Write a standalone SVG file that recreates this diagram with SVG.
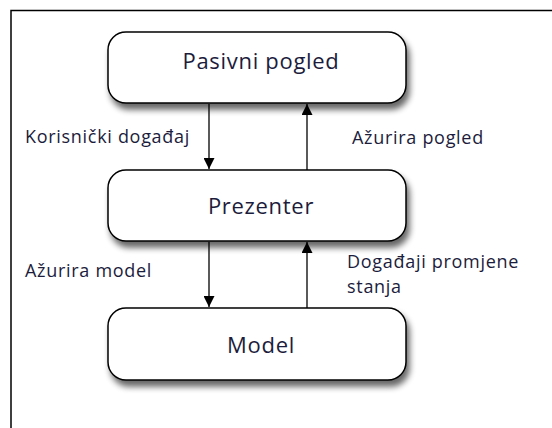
<svg xmlns="http://www.w3.org/2000/svg" width="552" height="428" viewBox="0 0 552 428">
<defs>
<style>
.node rect{fill:#fff;stroke:#000;stroke-width:1.5;filter:url(#sh)}
.t{font-family:"Open Sans","DejaVu Sans",sans-serif;font-size:22px;letter-spacing:0.7px;fill:#1c1c3c;text-anchor:middle}
.l{font-family:"Open Sans","DejaVu Sans",sans-serif;font-size:18px;letter-spacing:0.7px;fill:#1c1c3c}
.c line{stroke:#000;stroke-width:1.3}
</style>
<filter id="sh" x="-10%" y="-20%" width="130%" height="160%">
<feGaussianBlur in="SourceAlpha" stdDeviation="3"/>
<feOffset dx="3" dy="6" result="b"/>
<feComponentTransfer><feFuncA type="linear" slope="0.6"/></feComponentTransfer>
<feMerge><feMergeNode/><feMergeNode in="SourceGraphic"/></feMerge>
</filter>
<marker id="ah" viewBox="0 0 10 10" refX="10" refY="5" markerWidth="12" markerHeight="11" markerUnits="userSpaceOnUse" orient="auto">
<path d="M0,0 L10,5 L0,10 z" fill="#000"/>
</marker>
</defs>
<rect width="552" height="428" fill="#fff"/>
<rect x="11" y="10.5" width="580" height="440" fill="none" stroke="#000" stroke-width="1.5"/>
<g id="n1" class="node"><rect x="108" y="32" width="298" height="71" rx="18"/><text class="t" x="261" y="69">Pasivni pogled</text></g>
<g id="n2" class="node"><rect x="108" y="170" width="298" height="71" rx="18"/><text class="t" x="261" y="214">Prezenter</text></g>
<g id="n3" class="node"><rect x="108" y="308" width="298" height="72" rx="18"/><text class="t" x="261" y="353">Model</text></g>
<g class="c">
<line x1="209" y1="104" x2="209" y2="169" marker-end="url(#ah)"/>
<line x1="307" y1="170" x2="307" y2="104" marker-end="url(#ah)"/>
<line x1="209" y1="242" x2="209" y2="307" marker-end="url(#ah)"/>
<line x1="307" y1="308" x2="307" y2="242" marker-end="url(#ah)"/>
</g>
<g id="labels">
<text class="l" x="25" y="143">Korisnički događaj</text>
<text class="l" x="352" y="144">Ažurira pogled</text>
<text class="l" x="25" y="277">Ažurira model</text>
<text class="l" x="347" y="268">Događaji promjene</text>
<text class="l" x="347" y="293">stanja</text>
</g>
</svg>
